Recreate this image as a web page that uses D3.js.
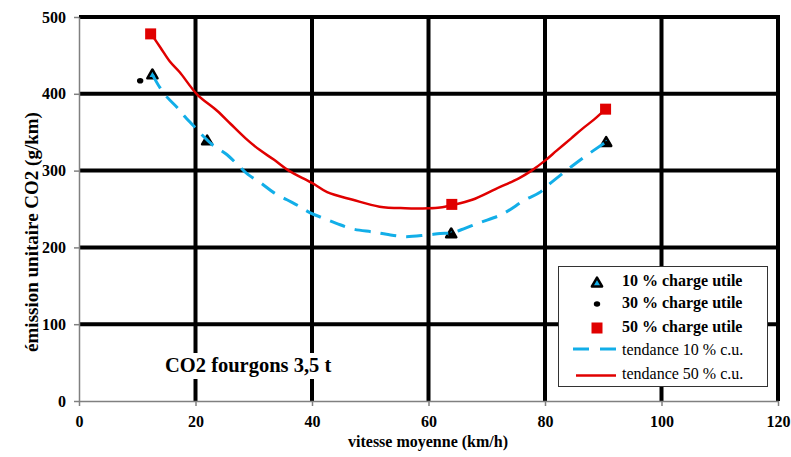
<!DOCTYPE html>
<html><head><meta charset="utf-8">
<script src="https://cdn.jsdelivr.net/npm/d3@7"></script>
<style>body{margin:0;background:#fff} svg{display:block} svg text{font-family:"Liberation Serif","Times New Roman",serif !important}</style>
</head><body><svg id="c" width="791" height="457"></svg>
<script>
const xTicks=[0,20,40,60,80,100,120];
const yTicks=[0,100,200,300,400,500];
const tri10X=[12.6,22,63.9,90.5], tri10Y=[424,338,217,336];
const dot30X=[10.5,22,64,90.5], dot30Y=[417,338,216,335];
const sq50X=[12.3,64,90.4], sq50Y=[478,256,380];
const trend10X=[12.6,13.9,15.2,17,18.2,20.2,21.3,23,25.2,27.2,29,31.2,33.5,35.7,37.7,39.7,42,44.3,47,50.5,52.8,56,59.6,62,64,65.3,68.7,72.6,76.6,79,81,84.5,86.8,90.4];
const trend10Y=[425,408,395,381,370,354,345,333,322,308,295,284,271,262,254,245,238,231,224,220,217,214,216,218,219,222,232,243,262,271,284,305,318,337];
const trend50X=[12.4,14,15.6,17.3,20.3,23.7,26,28.6,31,33.5,36,40,42.6,47,51.6,56,60,62,64,67.5,71.5,75.5,77.7,80,82,84.5,86.5,88.5,90.4];
const trend50Y=[478,460,442,428,399,378,361,342,327,314,300,284,272,262,253,251,251,252,255,262,276,290,300,313,326,342,355,367,380];
const legendLabels=["10 % charge utile","30 % charge utile","50 % charge utile","tendance 10 % c.u.","tendance 50 % c.u."];
const chartTitle="CO2 fourgons 3,5 t";
const xTitle="vitesse moyenne (km/h)", yTitle="émission unitaire CO2 (g/km)";

const BLUE="#12aee8", RED="#e00000";
const FONT="'Liberation Serif','Times New Roman',serif";
const svg=d3.select("#c");
const x=d3.scaleLinear().domain([0,120]).range([79,778]);
const y=d3.scaleLinear().domain([0,500]).range([401,17]);

// gridlines
const g=svg.append("g");
g.selectAll("line.v").data(xTicks.filter(d=>d>0)).join("line")
 .attr("x1",d=>x(d)).attr("x2",d=>x(d)).attr("y1",y(0)).attr("y2",y(500)-2)
 .attr("stroke","#000").attr("stroke-width",4);
g.selectAll("line.h").data(yTicks.filter(d=>d>0)).join("line")
 .attr("x1",x(0)).attr("x2",x(120)+2).attr("y1",d=>y(d)).attr("y2",d=>y(d))
 .attr("stroke","#000").attr("stroke-width",4);

// axes
const ax=svg.append("g").attr("transform",`translate(0,${y(0)})`)
 .call(d3.axisBottom(x).tickValues(xTicks).tickSize(5).tickSizeOuter(0).tickPadding(10));
const ay=svg.append("g").attr("transform",`translate(${x(0)},0)`)
 .call(d3.axisLeft(y).tickValues(yTicks).tickSize(5).tickSizeOuter(0).tickPadding(8));
[ax,ay].forEach(a=>{
  a.attr("font-family",null);
  a.select(".domain").attr("stroke","#808080").attr("stroke-width",1.5);
  a.selectAll(".tick line").attr("stroke","#808080").attr("stroke-width",1.5);
  a.selectAll(".tick text").style("font-size","16px").style("font-weight","bold")
   .style("font-family",FONT).attr("fill","#000");
});

// titles
svg.append("text").attr("x",428).attr("y",447).attr("text-anchor","middle")
 .style("font-family",FONT).style("font-size","16px").style("font-weight","bold").text(xTitle);
svg.append("text").attr("transform","translate(38,232) rotate(-90)").attr("text-anchor","middle")
 .style("font-family",FONT).style("font-size","19px").style("font-weight","bold").text(yTitle);
svg.append("rect").attr("x",160).attr("y",353).attr("width",178).attr("height",26).attr("fill","#fff");
svg.append("text").attr("x",165).attr("y",372)
 .style("font-family",FONT).style("font-size","20.5px").style("font-weight","bold").text(chartTitle);

// markers
const triPath=d3.symbol().type(d3.symbolTriangle).size(45);
const mk=svg.append("g");
mk.selectAll("path.t").data(tri10X.map((d,i)=>[d,tri10Y[i]])).join("path")
 .attr("d",triPath).attr("transform",d=>`translate(${x(d[0])},${y(d[1])})`)
 .attr("fill",BLUE).attr("stroke","#000").attr("stroke-width",2.5).attr("stroke-linejoin","round");
mk.selectAll("ellipse").data(dot30X.map((d,i)=>[d,dot30Y[i]])).join("ellipse")
 .attr("cx",d=>x(d[0])).attr("cy",d=>y(d[1])).attr("rx",3.2).attr("ry",2.8).attr("fill","#000");

// trend lines
const line=d3.line().x(d=>x(d[0])).y(d=>y(d[1])).curve(d3.curveCatmullRom.alpha(0.5));
svg.append("path").datum(trend10X.map((d,i)=>[d,trend10Y[i]])).attr("d",line)
 .attr("fill","none").attr("stroke",BLUE).attr("stroke-width",3).attr("stroke-dasharray","16,10");
svg.append("path").datum(trend50X.map((d,i)=>[d,trend50Y[i]])).attr("d",line)
 .attr("fill","none").attr("stroke",RED).attr("stroke-width",2.5);

svg.append("g").selectAll("rect").data(sq50X.map((d,i)=>[d,sq50Y[i]])).join("rect")
 .attr("x",d=>x(d[0])-5.5).attr("y",d=>y(d[1])-5.5).attr("width",11).attr("height",11).attr("fill",RED);

// legend
const lg=svg.append("g");
lg.append("rect").attr("x",558.5).attr("y",266.5).attr("width",209).attr("height",120)
 .attr("fill","#fff").attr("stroke","#333").attr("stroke-width",1);
const rowsY=[286,307.5,331.5,355,379];
const symY=[283.5,304,328,349,375.5];
lg.append("path").attr("d",triPath).attr("transform",`translate(597,${symY[0]})`)
 .attr("fill",BLUE).attr("stroke","#000").attr("stroke-width",2.5).attr("stroke-linejoin","round");
lg.append("ellipse").attr("cx",597).attr("cy",symY[1]).attr("rx",3.2).attr("ry",2.8).attr("fill","#000");
lg.append("rect").attr("x",591.5).attr("y",symY[2]-5.5).attr("width",11).attr("height",11).attr("fill",RED);
lg.append("line").attr("x1",573).attr("x2",616).attr("y1",symY[3]).attr("y2",symY[3])
 .attr("stroke",BLUE).attr("stroke-width",3).attr("stroke-dasharray","16,11");
lg.append("line").attr("x1",576).attr("x2",616).attr("y1",symY[4]).attr("y2",symY[4])
 .attr("stroke",RED).attr("stroke-width",2.5);
lg.selectAll("text").data(legendLabels).join("text")
 .attr("x",622).attr("y",(d,i)=>rowsY[i])
 .style("font-family",FONT).style("font-size","16px")
 .style("font-weight",(d,i)=>i<3?"bold":"normal").text(d=>d);
</script></body></html>
